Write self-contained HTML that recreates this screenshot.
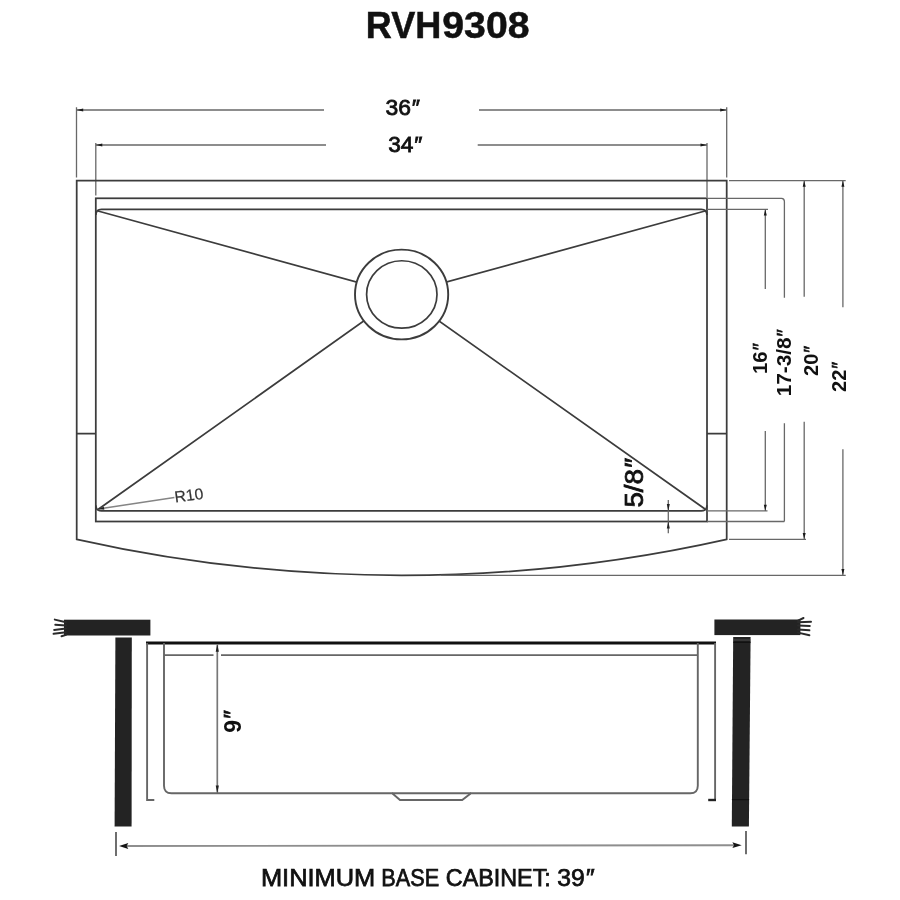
<!DOCTYPE html>
<html><head><meta charset="utf-8">
<style>
html,body{margin:0;padding:0;background:#fff;}
body{width:900px;height:900px;overflow:hidden;font-family:"Liberation Sans",sans-serif;}
svg{display:block;filter:grayscale(1);}
text{font-family:"Liberation Sans",sans-serif;}
.m{stroke:#3c3c3c;stroke-width:1.75;fill:none;}
.e{stroke:#686868;stroke-width:1.3;fill:none;}
.g{stroke:#666;stroke-width:1.9;fill:none;}
.t{fill:#111;stroke:#111;stroke-width:0.7;}
</style></head>
<body>
<svg width="900" height="900" viewBox="0 0 900 900">
<rect width="900" height="900" fill="#fff"/>

<!-- Title -->
<g font-size="36.4" font-weight="700" fill="#111" stroke="#111" stroke-width="0.5">
<text x="365.8" y="38" textLength="75.5" lengthAdjust="spacingAndGlyphs">RVH</text>
<text x="442.3" y="38" textLength="87.2" lengthAdjust="spacingAndGlyphs">9308</text>
</g>

<!-- top dimensions -->
<path class="e" d="M76.7 110H324M479 110H726.7M95.8 145H326M477.7 145H707"/>
<path class="e" d="M76.5 107.3V177.5M726.7 107.3V177.5M95.8 143V195.5M707 143V197"/>
<path fill="#1a1a1a" d="M76.7 110l6.5-1.5v3zM726.7 110l-6.5-1.5v3zM95.8 145l6.5-1.5v3zM707 145l-6.5-1.5v3z"/>
<text class="t" x="385.4" y="115.2" font-size="22.6" style="stroke-width:0.8" textLength="33.6" lengthAdjust="spacingAndGlyphs">36<tspan font-style="italic">″</tspan></text>
<text class="t" x="388.2" y="152.3" font-size="22.6" style="stroke-width:0.8" textLength="33.2" lengthAdjust="spacingAndGlyphs">34<tspan font-style="italic">″</tspan></text>

<!-- top view : outer -->
<path class="m" d="M76.7 539.3V180.6H726.7V539.3A1485 1485 0 0 1 76.7 539.3Z"/>
<!-- inner rect -->
<rect class="m" x="95.8" y="198.3" width="611.2" height="323.2"/>
<!-- inner-inner lines with rounded corners -->
<path class="m" d="M95.8 215Q96 209.4 101.5 209.4H701.3Q706.8 209.4 707 215"/>
<path class="m" d="M95.8 505.3Q96 510.9 101.5 510.9H701.3Q706.8 510.9 707 505.3"/>
<!-- ticks -->
<path class="m" d="M76.7 433.7H95.8M707 433.7H726.7"/>
<!-- diagonals -->
<path class="m" d="M98 211L401.3 294.4L705 211M98.3 509.3L401.3 294.4L705 509"/>
<ellipse class="m" cx="401.6" cy="294.5" rx="46.6" ry="44.9" style="fill:#fff;stroke-width:1.9"/>
<ellipse class="m" cx="401.8" cy="294.45" rx="35.2" ry="33.7" style="stroke-width:1.7"/>

<!-- R10 -->
<path d="M100 508.7L174.4 497.6" stroke="#858585" stroke-width="1.5" fill="none"/>
<path d="M98.3 509l5.5-2.2l0.5 3z" fill="#222"/>
<text x="175.2" y="502.6" font-size="15.8" fill="#333" stroke="#333" stroke-width="0.2" transform="rotate(-7.5 175.2 502.6)">R10</text>

<!-- right ext lines -->
<path class="e" d="M729 180.6H845.7M707 198.3H781.5Q784.4 198.3 784.4 201.5V297.8M707 209.4H768M729 539.3H806M441 575.3H845.7M707 510.9H767.5M707 521.5H784.4"/>
<path class="e" d="M765.3 209.4V289M765.3 431V510.9M784.4 423.3V521.5M804.2 180.6V296.7M804.2 421.8V539.3M842.9 180.6V307.3M842.9 449.3V575.3"/>
<path fill="#1a1a1a" d="M765.3 209.6l-1.5 6h3zM765.3 510.7l-1.5-6h3zM804.2 180.8l-1.5 6h3zM804.2 539.1l-1.5-6h3zM842.9 180.8l-1.5 6h3zM842.9 575.1l-1.5-6h3z"/>

<!-- rotated labels -->
<g font-size="19.7" font-weight="700" fill="#111">
<text transform="translate(766.7 374) rotate(-90)" textLength="30" lengthAdjust="spacingAndGlyphs">16<tspan font-style="italic" font-weight="400" stroke="#111" stroke-width="0.6">″</tspan></text>
<text transform="translate(791.3 396.3) rotate(-90)" textLength="66.3" lengthAdjust="spacingAndGlyphs">17-3/8<tspan font-style="italic" font-weight="400" stroke="#111" stroke-width="0.6">″</tspan></text>
<text transform="translate(818 376) rotate(-90)" textLength="29.4" lengthAdjust="spacingAndGlyphs">20<tspan font-style="italic" font-weight="400" stroke="#111" stroke-width="0.6">″</tspan></text>
<text transform="translate(846.3 392) rotate(-90)" textLength="29.4" lengthAdjust="spacingAndGlyphs">22<tspan font-style="italic" font-weight="400" stroke="#111" stroke-width="0.6">″</tspan></text>
</g>
<text class="t" font-size="25.2" style="stroke-width:0.75" transform="translate(643.4 507.6) rotate(-90)" textLength="48.4" lengthAdjust="spacingAndGlyphs">5/8<tspan font-style="italic">″</tspan></text>

<!-- 5/8 arrows -->
<path class="e" d="M668.3 500V533.3"/>
<path fill="#222" d="M668.3 510.9l-1.5-7h3zM668.3 521.5l-1.5 7h3z"/>

<!-- side view -->
<!-- countertops -->
<rect x="64" y="619.7" width="86.4" height="15.8" fill="#232323"/>
<path stroke="#2a2a2a" stroke-width="2" stroke-linecap="round" fill="none" d="M66 622.2L54.8 619.6M66 625.5L55.3 624.8M66 628.4L54.2 629.9M66 632.2L53.6 633.8M66 634.9L61.5 636.3"/>
<rect x="714.4" y="619.5" width="86" height="15.6" fill="#232323"/>
<path stroke="#2a2a2a" stroke-width="2" stroke-linecap="round" fill="none" d="M798 620.6L803.5 618M798 622.2L811 621.8M798 625.6L809.8 625.9M798 629.4L809.4 630.3M798 632.6L809.4 635.3"/>
<!-- cabinet walls -->
<path fill="#232323" d="M115.4 637.6H131.8L131.6 826.4H114.6Z"/>
<path fill="#232323" d="M733.2 636.9H750.6L748.9 826.4H731.8Z"/>
<path stroke="#4a4a4a" stroke-width="1" d="M733.4 640H750.4" fill="none"/>
<path stroke="#111" stroke-width="1.4" d="M731.9 799.6H749.1M733.3 642.3H750.5" fill="none"/>
<!-- sink body -->
<path d="M146 642.9H716" stroke="#111" stroke-width="3" fill="none"/>
<path class="g" d="M147.1 643V800H154.3M715.1 643V799"/>
<path d="M708.2 800H716" stroke="#222" stroke-width="2.4" fill="none"/>
<path class="g" d="M164 643V785.8Q164 793.3 171.5 793.3H392.2L400 800H462.2L471 793.3H690.3Q697.8 793.3 697.8 785.8V643"/>
<path class="g" d="M392.2 793.3H471"/>
<path class="g" d="M164 655.1H213.5M221 655.1H697.8" style="stroke-width:1.7"/>
<!-- 9 inch -->
<path class="e" d="M217.3 644.5V793" style="stroke:#777;stroke-width:1.7"/>
<path fill="#222" d="M217.3 644.3l-1.6 7.5h3.2zM217.3 793l-1.6-7.5h3.2z"/>
<text font-size="23" font-weight="700" fill="#111" transform="translate(240.6 732.8) rotate(-90)">9<tspan font-style="italic" font-weight="400" stroke="#111" stroke-width="0.7" dx="0.3" font-size="24">″</tspan></text>

<!-- bottom dim -->
<path d="M116 832V856M746 831V854.3" stroke="#686868" stroke-width="1.9" fill="none"/>
<path d="M127 846L734 845.2" stroke="#8e8e8e" stroke-width="1.9" fill="none"/>
<path fill="#151515" d="M119 846l9.3-2.9l-1.6 2.9l1.6 2.9zM741.7 845.2l-9.3-2.9l1.6 2.9l-1.6 2.9z"/>
<g class="t" font-size="24.2" style="stroke-width:0.75">
<text x="260.9" y="886.1" textLength="114.4" lengthAdjust="spacingAndGlyphs">MINIMUM</text>
<text x="381.3" y="886.1" textLength="57.8" lengthAdjust="spacingAndGlyphs">BASE</text>
<text x="445.8" y="886.1" textLength="105" lengthAdjust="spacingAndGlyphs">CABINET:</text>
<text x="557.3" y="886.1" textLength="36.2" lengthAdjust="spacingAndGlyphs">39<tspan font-style="italic">″</tspan></text>
</g>
</svg>
</body></html>
